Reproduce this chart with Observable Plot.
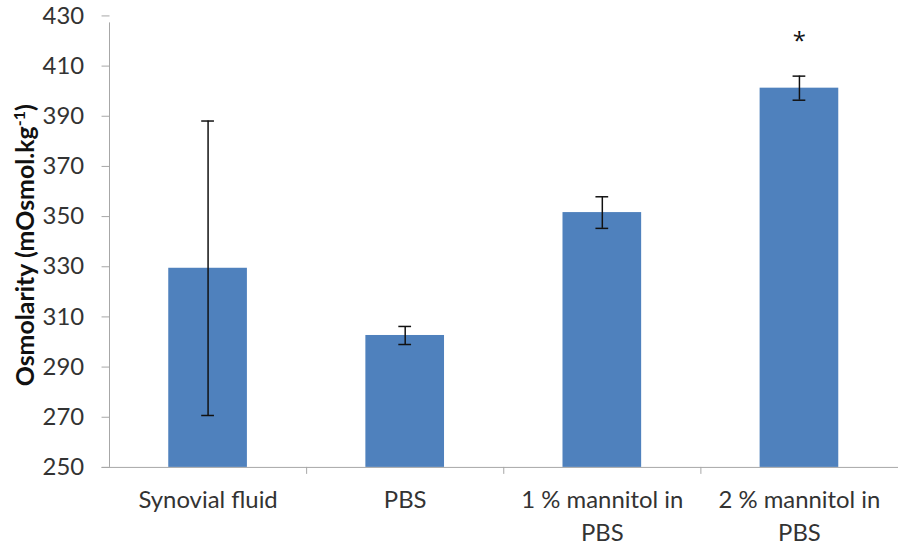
<!DOCTYPE html>
<html>
<head>
<meta charset="utf-8">
<script src="https://cdn.jsdelivr.net/npm/d3@7"></script>
<script src="https://cdn.jsdelivr.net/npm/@observablehq/plot@0.6"></script>
<style>
  html, body { margin: 0; padding: 0; background: #fff; overflow: hidden; }
  #chart { width: 898px; height: 549px; overflow: hidden; }
</style>
</head>
<body>
<div id="chart"></div>
<script>
// Osmolarity of each test solution (mean ± error)
const categories = ["Synovial fluid", "PBS", "1 % mannitol in PBS", "2 % mannitol in PBS"];
const means = [329.4, 302.6, 351.6, 401.2];
const errors = [58.7, 3.6, 6.3, 4.8];
const significance = ["", "", "", "*"];
const yTicks = [250, 270, 290, 310, 330, 350, 370, 390, 410, 430];

const data = categories.map((cat, i) => ({
  cat,
  mean: means[i],
  lo: means[i] - errors[i],
  hi: means[i] + errors[i],
  sig: significance[i]
}));

const width = 902, height = 549;
const marginLeft = 110, marginRight = 0, marginTop = 15.5, marginBottom = 80;
const step = (width - marginLeft - marginRight) / categories.length;
const paddingInner = 0.6;
const bandwidth = step * (1 - paddingInner);
const capWidth = 13;
const capInset = (bandwidth - capWidth) / 2;
const yMin = yTicks[0], yMax = yTicks[yTicks.length - 1];
const axisGray = "#a6a6a6";
const textColor = "#333333";
const font = "Lato, 'Open Sans', sans-serif";

const chart = Plot.plot({
  width, height, marginLeft, marginRight, marginTop, marginBottom,
  style: { fontFamily: font, fontSize: "24px", color: textColor, background: "#fff" },
  x: { domain: categories, paddingInner, paddingOuter: paddingInner / 2, axis: null },
  y: { domain: [yMin, yMax], axis: null },
  marks: [
    Plot.barY(data, { x: "cat", y1: () => yMin, y2: "mean", fill: "#4f81bd" }),
    // error bars with caps
    Plot.ruleX(data, { x: "cat", y1: "lo", y2: "hi", stroke: "#111", strokeWidth: 1.5 }),
    Plot.tickY(data, { x: "cat", y: "lo", stroke: "#111", strokeWidth: 1.5, insetLeft: capInset, insetRight: capInset }),
    Plot.tickY(data, { x: "cat", y: "hi", stroke: "#111", strokeWidth: 1.5, insetLeft: capInset, insetRight: capInset }),
    // significance marker
    Plot.text(data, { x: "cat", y: "hi", text: "sig", dy: -35, fontSize: 24, fontFamily: "'Open Sans', sans-serif", fill: "#111" }),
    // y axis line and ticks
    Plot.ruleX([categories[0]], { x: d => d, dx: -step / 2, y1: () => yMin, y2: () => yMax, insetBottom: -7, stroke: axisGray }),
    Plot.axisY({ ticks: yTicks, tickSize: 8, tickPadding: 18, stroke: axisGray, fill: textColor, label: null }),
    // x axis line and category boundary ticks
    Plot.ruleY([yMin], { insetLeft: -8, stroke: axisGray }),
    Plot.ruleX(categories.slice(1), { x: d => d, dx: -step / 2, y1: () => yMin, y2: () => yMin, insetBottom: -7, stroke: axisGray }),
    Plot.axisX({
      tickSize: 0, tickPadding: 17, label: null, fill: textColor, lineHeight: 1.38,
      tickFormat: d => d.replace(" in PBS", " in\nPBS")
    })
  ]
});

// rotated y-axis title with superscript exponent
const svg = d3.select(chart);
const title = svg.append("text")
  .attr("transform", "translate(34,388) rotate(-90)")
  .attr("text-anchor", "start")
  .attr("font-family", font)
  .attr("font-size", 25)
  .attr("font-weight", "bold")
  .attr("fill", "#111");
title.append("tspan").text("Osmolarity (mOsmol.kg");
title.append("tspan").attr("font-size", 16).attr("dy", -9).text("-1");
title.append("tspan").attr("dy", 9).text(")");

document.getElementById("chart").appendChild(chart);
</script>
</body>
</html>
